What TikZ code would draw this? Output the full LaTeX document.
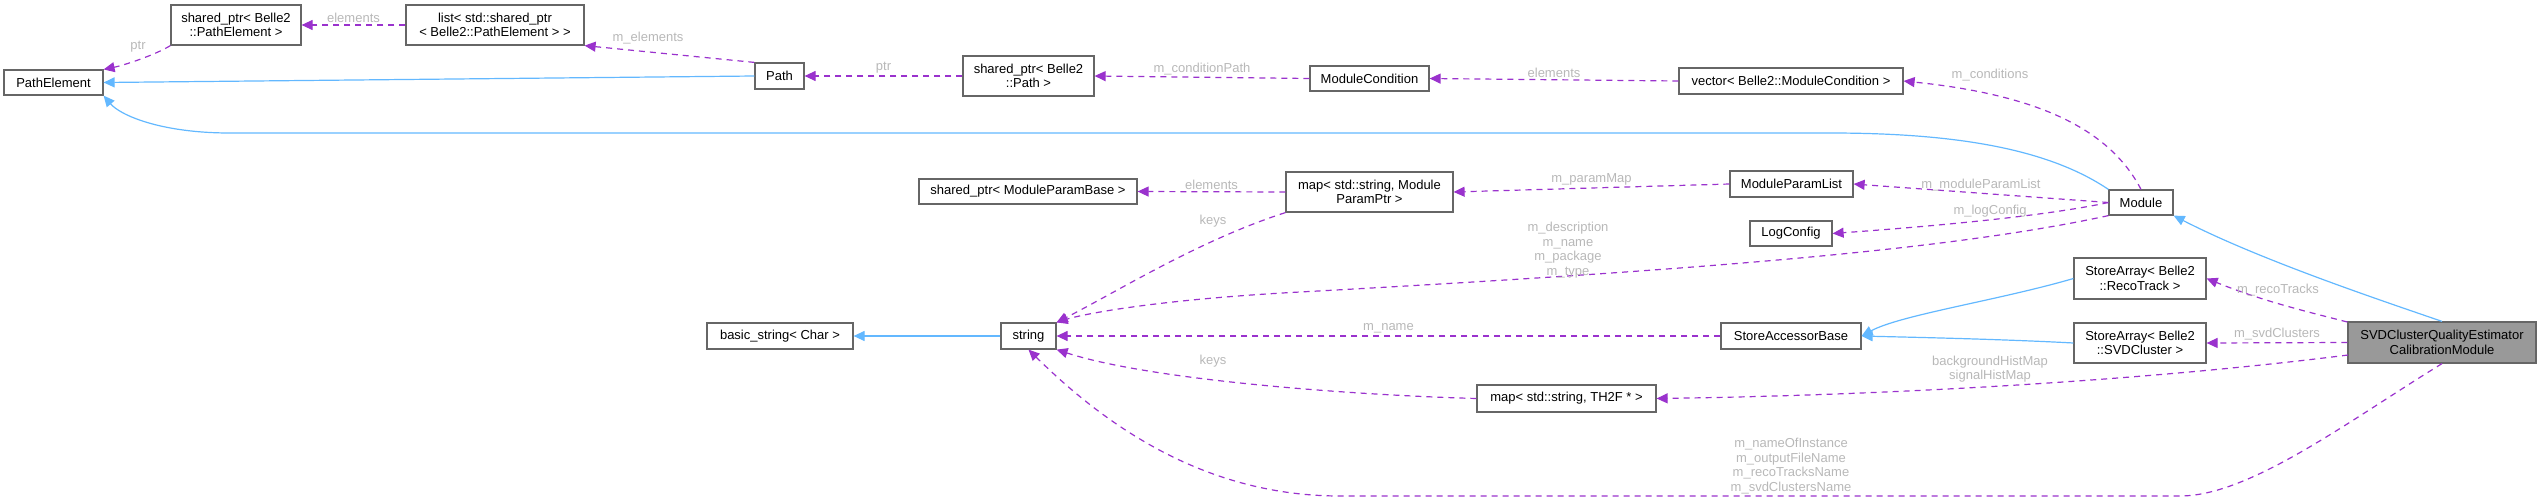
\documentclass[tikz,border=0pt]{standalone}
\usepackage{fontspec}
\setmainfont{Liberation Sans}
\usetikzlibrary{arrows.meta}
\definecolor{inh}{HTML}{63B8FF}
\definecolor{usg}{HTML}{9A32CD}
\definecolor{lbl}{HTML}{B8B8B8}
\definecolor{brd}{HTML}{666666}
\begin{document}
\begin{tikzpicture}[x=1pt,y=-1pt,
  box/.style={draw=brd,line width=1.2pt,fill=white,inner sep=0pt,align=center,font=\fontsize{13}{14.5}\selectfont},
  inh/.style={draw=inh,line width=1.2pt,-{Triangle[length=11pt,width=10pt,fill=inh]}},
  use/.style={draw=usg,line width=1.2pt,dash pattern=on 6pt off 5pt,-{Triangle[length=11pt,width=10pt,fill=usg]}},
  lab/.style={text=lbl,font=\fontsize{13}{14.5}\selectfont,align=center,inner sep=0pt}]
\useasboundingbox (0,0) rectangle (2541,501);
% nodes
\node[box,minimum width=99,minimum height=25] (pe) at (53.5,82.5) {PathElement};
\node[box,minimum width=130,minimum height=40] (spe) at (236,25) {shared\_ptr< Belle2\\::PathElement >};
\node[box,minimum width=178,minimum height=40] (lst) at (495,25) {list< std::shared\_ptr\\< Belle2::PathElement > >};
\node[box,minimum width=49,minimum height=26] (path) at (779.5,76) {Path};
\node[box,minimum width=131,minimum height=40] (spp) at (1028.5,76) {shared\_ptr< Belle2\\::Path >};
\node[box,minimum width=119,minimum height=25] (mc) at (1369.5,78.5) {ModuleCondition};
\node[box,minimum width=224,minimum height=26] (vec) at (1791,81) {vector< Belle2::ModuleCondition >};
\node[box,minimum width=218,minimum height=25] (spb) at (1028,191.5) {shared\_ptr< ModuleParamBase >};
\node[box,minimum width=167,minimum height=40] (mpp) at (1369.5,192) {map< std::string, Module\\ParamPtr >};
\node[box,minimum width=123,minimum height=26] (mpl) at (1791.5,184) {ModuleParamList};
\node[box,minimum width=64,minimum height=25] (mod) at (2141,202.5) {Module};
\node[box,minimum width=82,minimum height=25] (log) at (1791,233.5) {LogConfig};
\node[box,minimum width=146,minimum height=26] (bs) at (780,336) {basic\_string< Char >};
\node[box,minimum width=55,minimum height=26] (str) at (1028.5,336) {string};
\node[box,minimum width=179,minimum height=27] (mth) at (1566.5,398.5) {map< std::string, TH2F * >};
\node[box,minimum width=132,minimum height=41] (sar) at (2140,278.5) {StoreArray< Belle2\\::RecoTrack >};
\node[box,minimum width=140,minimum height=26] (sab) at (1791,336) {StoreAccessorBase};
\node[box,minimum width=132,minimum height=40] (sas) at (2140,343) {StoreArray< Belle2\\::SVDCluster >};
\node[box,fill=black!40,minimum width=188,minimum height=41] (svd) at (2442,342.5) {SVDClusterQualityEstimator\\CalibrationModule};
% inheritance
\draw[inh] (path.west) -- (pe.east);
\draw[inh] (mod.north west) .. controls (2050,150) and (1960,133) .. (1830,133) -- (230,133) .. controls (160,133) and (120,115) .. (pe.south east);
\draw[inh] (svd.north) .. controls (2380,300) and (2260,260) .. (mod.south east);
\draw[inh] (sar.west) .. controls (2000,300) and (1900,315) .. (sab.east);
\draw[inh] (sas.west) .. controls (2000,339) and (1900,337) .. (sab.east);
\draw[inh] (str.west) -- (bs.east);
% usage
\draw[use] (spe.south west) .. controls (155,55) and (125,65) .. (pe.north east);
\node[lab] at (138,47) {ptr};
\draw[use] (lst.west) -- (spe.east) node[lab,midway,above=2pt] {elements};
\draw[use] (path.north west) -- (lst.south east);
\node[lab] at (648,38) {m\_elements};
\draw[use] (spp.west) -- (path.east) node[lab,midway,above=2pt] {ptr};
\draw[use] (mc.west) -- (spp.east) node[lab,midway,above=2pt] {m\_conditionPath};
\draw[use] (vec.west) -- (mc.east) node[lab,midway,above=2pt] {elements};
\draw[use] (mod.north) .. controls (2110,130) and (2040,95) .. (vec.east);
\node[lab] at (1990,75) {m\_conditions};
\draw[use] (mpp.west) -- (spb.east) node[lab,midway,above=2pt] {elements};
\draw[use] (mpp.south west) .. controls (1200,240) and (1120,290) .. (str.north east);
\node[lab] at (1213,221) {keys};
\draw[use] (mpl.west) -- (mpp.east) node[lab,midway,above=2pt] {m\_paramMap};
\draw[use] (mod.west) -- (mpl.east) node[lab,midway,above=2pt] {m\_moduleParamList};
\draw[use] (mod.west) .. controls (2050,215) and (1950,225) .. (log.east);
\node[lab] at (1990,211) {m\_logConfig};
\draw[use] (mod.south west) .. controls (1950,250) and (1700,270) .. (1300,292) .. controls (1150,300) and (1080,315) .. (str.north east);
\node[lab] at (1568,250) {m\_description\\m\_name\\m\_package\\m\_type};
\draw[use] (sab.west) -- (str.east) node[lab,midway,above=2pt] {m\_name};
\draw[use] (mth.west) .. controls (1350,395) and (1150,380) .. (str.south east);
\node[lab] at (1213,361) {keys};
\draw[use] (svd.west |- 2300,322) .. controls (2300,310) and (2260,300) .. (sar.east);
\node[lab] at (2278,290) {m\_recoTracks};
\draw[use] (svd.west) -- (sas.east) node[lab,midway,above=2pt] {m\_svdClusters};
\draw[use] (2348,355) .. controls (2150,380) and (1900,395) .. (mth.east);
\node[lab] at (1990,369) {backgroundHistMap\\signalHistMap};
\draw[use] (svd.south) .. controls (2350,420) and (2250,496) .. (2180,496) -- (1340,496) .. controls (1200,496) and (1100,420) .. (str.south);
\node[lab] at (1791,466) {m\_nameOfInstance\\m\_outputFileName\\m\_recoTracksName\\m\_svdClustersName};
\end{tikzpicture}
\end{document}
